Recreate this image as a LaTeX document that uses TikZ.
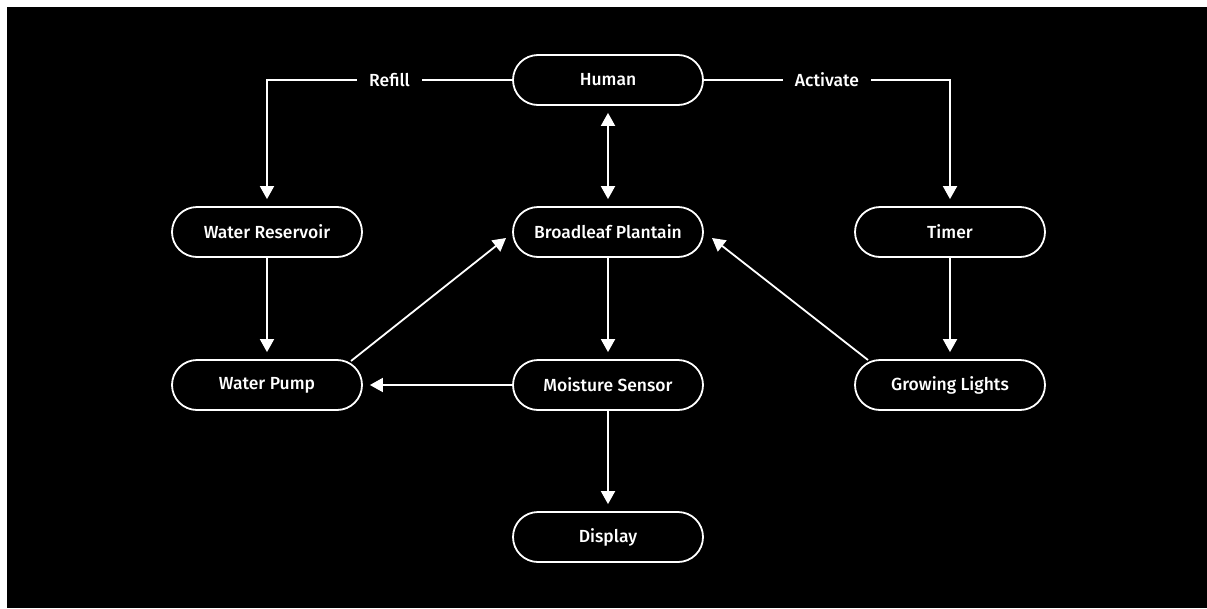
\documentclass[tikz,border=0pt]{standalone}
\usepackage{fontspec}
\setmainfont{Fira Sans}[BoldFont={Fira Sans Medium}]
\usetikzlibrary{shapes.misc,arrows.meta,calc}
\begin{document}
\begin{tikzpicture}[x=1pt,y=-1pt,
  box/.style={rounded rectangle, draw=white, line width=1.8pt, minimum width=190pt, minimum height=50pt, text=white, font=\bfseries\fontsize{17.5}{20}\selectfont, inner sep=0pt},
  tip/.style={-{Triangle[length=13pt,width=14pt]}},
  conn/.style={draw=white, line width=1.8pt, tip, shorten >=7pt},
  plain/.style={draw=white, line width=1.8pt, tip},
  lbl/.style={fill=black, text=white, font=\bfseries\fontsize{17.5}{20}\selectfont, inner xsep=12pt, inner ysep=3pt}]
\fill[white] (0,0) rectangle (1207,608);
\fill[black] (7,7) rectangle (1207,608);
\useasboundingbox (0,0) rectangle (1207,608);

\node[box] (human) at (608,80) {Human};
\node[box] (res) at (267,232) {Water Reservoir};
\node[box] (plant) at (608,232) {Broadleaf Plantain};
\node[box] (timer) at (950,232) {Timer};
\node[box] (pump) at (267,385) {Water Pump};
\node[box] (sensor) at (608,385) {Moisture Sensor};
\node[box] (lights) at (950,385) {Growing Lights};
\node[box] (display) at (608,537) {Display};

\coordinate (pumpout) at ($(pump.center)+(84,-24)$);
\coordinate (plantinL) at ($(plant.center)+(-102,6)$);
\coordinate (lightsout) at ($(lights.center)+(-82,-25)$);
\coordinate (plantinR) at ($(plant.center)+(104,6)$);

\draw[conn] (human.west) -| node[lbl, pos=0.25] {Refill} (res.north);
\draw[conn] (human.east) -| node[lbl, pos=0.25] {Activate} (timer.north);
\draw[conn, {Triangle[length=13pt,width=14pt]}-{Triangle[length=13pt,width=14pt]}, shorten <=7pt] (human) -- (plant);
\draw[conn] (res) -- (pump);
\draw[conn] (plant) -- (sensor);
\draw[conn] (sensor) -- (pump);
\draw[conn] (sensor) -- (display);
\draw[conn] (timer) -- (lights);
\draw[plain] (pumpout) -- (plantinL);
\draw[plain] (lightsout) -- (plantinR);
\end{tikzpicture}
\end{document}
